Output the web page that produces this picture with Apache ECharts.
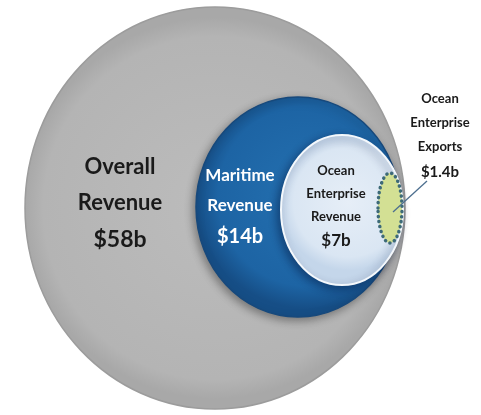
<!DOCTYPE html>
<html>
<head>
<meta charset="utf-8">
<script src="https://cdn.jsdelivr.net/npm/echarts@6/dist/echarts.min.js"></script>
<style>
	html, body {margin: 0; padding: 0; background: #fff;}
	#main {width: 481px; height: 415px;}
</style>
</head>
<body>
<div id="main"></div>
<script>
	//数据
	var names = ['Overall Revenue', 'Maritime Revenue', 'Ocean Enterprise Revenue', 'Ocean Enterprise Exports']
	var values = [58, 14, 7, 1.4]

	//布局（坐标轴单位）
	var centerX = [215, 298, 342, 390]
	var centerY = [208, 207, 210, 208]
	var radiusX = [190, 102, 61, 12]
	var radiusY = [201, 110, 75, 35]
	var labelX = [120, 240, 336, 440]
	var labelY = [204, 207, 206, 136]

	var fills = [
		{type: 'radial', x: 0.5, y: 0.5, r: 0.5, colorStops: [{offset: 0, color: '#bcbcbc'}, {offset: 0.9, color: '#b4b4b4'}, {offset: 1, color: '#a8a8a8'}]},
		{type: 'radial', x: 0.55, y: 0.45, r: 0.55, colorStops: [{offset: 0, color: '#2470b0'}, {offset: 0.8, color: '#1d64a4'}, {offset: 1, color: '#164e86'}]},
		{type: 'radial', x: 0.55, y: 0.45, r: 0.55, colorStops: [{offset: 0, color: '#e6eef7'}, {offset: 0.8, color: '#dae6f3'}, {offset: 1, color: '#c4d6ea'}]},
		'#d3e094'
	]
	var strokes = ['#9c9c9c', '#17497c', '#f4f8fc', '#3d6a78']
	var textColors = ['#1a1a1a', '#ffffff', '#1a1a1a', '#1a1a1a']
	var fontSizes = [22, 17, 13, 13]
	var valueSizes = [23, 20, 17, 15]
	var lineHeights = [36, 30, 23, 24]

	var chart = echarts.init(document.getElementById('main'))

	function labelText(i) {
		var words = names[i].split(' ')
		return words.map(function(w) { return '{n|' + w + '}' }).join('\n') + '\n{v|$' + values[i] + 'b}'
	}

	function renderItem(params, api) {
		var i = params.dataIndex
		var c = api.coord([centerX[i], centerY[i]])
		var s = api.size([radiusX[i], radiusY[i]])
		var children = []
		var style = {fill: fills[i], stroke: strokes[i], lineWidth: 1.5}
		if (i == 1) {
			style.shadowBlur = 8
			style.shadowColor = 'rgba(0,0,0,0.35)'
			style.shadowOffsetX = -2
			style.shadowOffsetY = 3
		}
		if (i == 2) {
			style.lineWidth = 2
			style.shadowBlur = 8
			style.shadowColor = 'rgba(0,20,60,0.45)'
			style.shadowOffsetX = -3
			style.shadowOffsetY = 3
		}
		if (i == 3) {
			style.lineWidth = 3.5
			style.lineDash = [0.1, 5]
			style.lineCap = 'round'
		}
		children.push({
			type: 'ellipse',
			shape: {cx: c[0], cy: c[1], rx: s[0], ry: s[1]},
			style: style
		})
		var l = api.coord([labelX[i], labelY[i]])
		if (i == 3) {
			//引线
			var a = api.coord([393, 212])
			var b = api.coord([427, 181])
			children.push({
				type: 'line',
				shape: {x1: a[0], y1: a[1], x2: b[0], y2: b[1]},
				style: {stroke: '#4d6f8f', lineWidth: 1.3}
			})
		}
		children.push({
			type: 'text',
			x: l[0],
			y: l[1],
			style: {
				text: labelText(i),
				align: 'center',
				verticalAlign: 'middle',
				fill: textColors[i],
				fontFamily: 'Lato',
				fontWeight: 'bold',
				rich: {
					n: {fontSize: fontSizes[i], fontWeight: 'bold', fontFamily: 'Lato', fill: textColors[i], lineHeight: lineHeights[i], align: 'center'},
					v: {fontSize: valueSizes[i], fontWeight: 'bold', fontFamily: 'Lato', fill: textColors[i], lineHeight: lineHeights[i] + 2, align: 'center'}
				}
			}
		})
		return {type: 'group', children: children}
	}

	chart.setOption({
		animation: false,
		grid: {left: 0, right: 0, top: 0, bottom: 0},
		xAxis: {type: 'value', min: 0, max: 481, show: false},
		yAxis: {type: 'value', min: 0, max: 415, inverse: true, show: false},
		series: [{
			type: 'custom',
			renderItem: renderItem,
			data: values.map(function(v, i) { return [centerX[i], centerY[i], v] })
		}]
	})
</script>
</body>
</html>
